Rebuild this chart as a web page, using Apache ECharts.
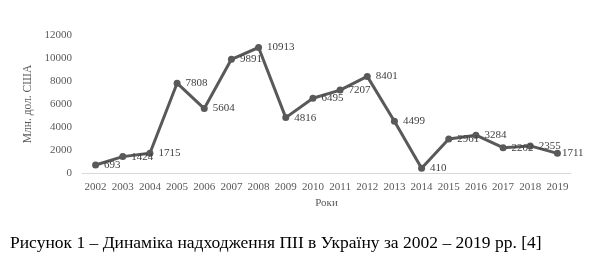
<!DOCTYPE html>
<html><head><meta charset="utf-8">
<script src="https://cdn.jsdelivr.net/npm/echarts@6/dist/echarts.min.js"></script>
<style>html,body{margin:0;padding:0;background:#fff}#c{width:600px;height:258px}</style>
</head><body><div id="c"></div>
<script>
const years = ['2002','2003','2004','2005','2006','2007','2008','2009','2010','2011','2012','2013','2014','2015','2016','2017','2018','2019'];
const values = [693,1424,1715,7808,5604,9891,10913,4816,6495,7207,8401,4499,410,2961,3284,2202,2355,1711];
const yTicks = [0,2000,4000,6000,8000,10000,12000];
const yTitle = 'Млн. дол. США';
const xTitle = 'Роки';
const caption = 'Рисунок 1 – Динаміка надходження ПІІ в Україну за 2002 – 2019 рр. [4]';

const font = '"Liberation Serif", "Times New Roman", serif';
const chart = echarts.init(document.getElementById('c'));
const data = values.map((v, i) => i === values.length - 1 ? {value: v, label: {distance: 1}} : v);
chart.setOption({
  animation: false,
  grid: {left: 82, right: 29, top: 35, bottom: 85},
  xAxis: {
    type: 'category', data: years, boundaryGap: true,
    axisLine: {lineStyle: {color: '#d9d9d9', width: 1}},
    axisTick: {show: false},
    axisLabel: {color: '#595959', fontFamily: font, fontSize: 11, margin: 9, interval: 0},
    name: xTitle, nameLocation: 'middle', nameGap: 23,
    nameTextStyle: {color: '#595959', fontFamily: font, fontSize: 11}
  },
  yAxis: {
    type: 'value', min: yTicks[0], max: yTicks[yTicks.length-1], interval: 2000,
    axisLine: {show: false}, axisTick: {show: false}, splitLine: {show: false},
    axisLabel: {color: '#595959', fontFamily: font, fontSize: 11, margin: 10, formatter: v => String(v)},
    name: yTitle, nameLocation: 'middle', nameGap: 34, nameRotate: 90,
    nameTextStyle: {color: '#595959', fontFamily: font, fontSize: 11.5}
  },
  series: [{
    type: 'line', data: data,
    symbol: 'circle', symbolSize: 7,
    lineStyle: {color: '#595959', width: 3},
    itemStyle: {color: '#595959'},
    label: {show: true, position: 'right', distance: 5, color: '#404040', fontFamily: font, fontSize: 11}
  }],
  graphic: [{
    type: 'text', left: 10, top: 234,
    style: {text: caption, fill: '#000', font: '17.5px ' + font}
  }]
});
</script></body></html>
